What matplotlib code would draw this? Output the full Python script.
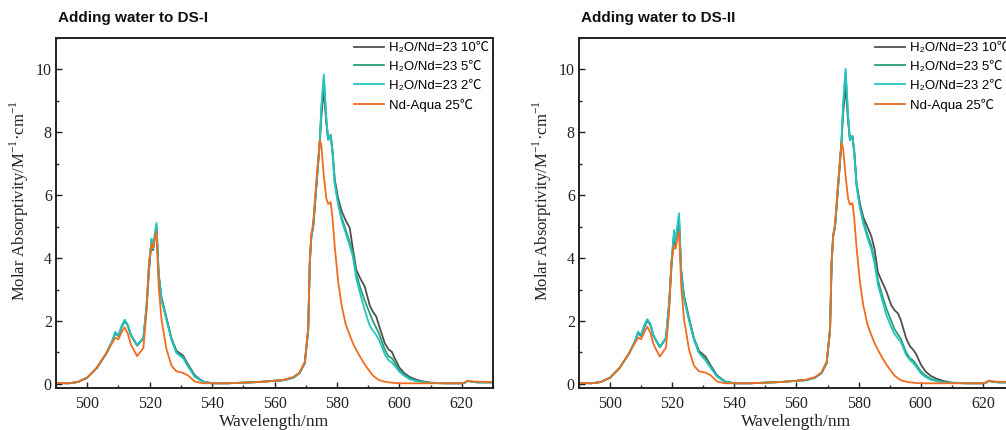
import matplotlib
matplotlib.use("Agg")
import matplotlib.pyplot as plt
from matplotlib.ticker import MultipleLocator

# ---------------- data ----------------
wavelength = [490, 494, 497, 500, 503, 506, 508, 509, 510, 511, 512, 513, 514, 516, 518, 519,
              519.8, 520.6, 521.1, 521.6, 522.2, 522.9, 523.8, 525.4, 527, 528.6, 530.7, 532.3,
              534.4, 537, 540, 545, 550, 555, 560, 563, 566, 568, 569.7, 570.8, 571.3, 571.8,
              572.4, 573.4, 574.5, 575.0, 575.8, 576.6, 577.2, 578, 578.6, 579.3, 580.4, 581.5,
              582.8, 584.1, 585.1, 586.2, 587.5, 588.9, 590.5, 591.5, 592.6, 593.5, 595.3, 596.5,
              597.6, 598.5, 600, 601.5, 603.3, 605, 607, 610, 615, 620, 621, 622, 623, 625, 630]

# DS-I
ds1_10C = [0.03, 0.02, 0.06, 0.2, 0.5, 0.95, 1.35, 1.62, 1.52, 1.8, 2.0, 1.85, 1.55, 1.22, 1.45, 2.4,
           3.6, 4.55, 4.25, 4.6, 4.95, 3.5, 2.75, 2.1, 1.45, 1.05, 0.9, 0.62,
           0.28, 0.08, 0.02, 0.02, 0.04, 0.06, 0.1, 0.12, 0.2, 0.34, 0.66, 1.72, 3.84, 4.7,
           5.0, 6.28, 7.65, 8.5, 9.36, 8.3, 7.77, 7.92, 7.4, 6.5, 5.9, 5.5,
           5.2, 4.96, 4.3, 3.63, 3.35, 3.1, 2.5, 2.3, 2.14, 1.85, 1.3, 1.1,
           1.02, 0.82, 0.52, 0.35, 0.22, 0.15, 0.09, 0.04, 0.02, 0.02, 0.04, 0.1, 0.07, 0.05, 0.05]
ds1_5C = [0.03, 0.02, 0.06, 0.2, 0.5, 0.95, 1.35, 1.63, 1.53, 1.82, 2.02, 1.86, 1.55, 1.22, 1.45, 2.45,
          3.7, 4.6, 4.3, 4.7, 5.05, 3.45, 2.7, 2.05, 1.42, 1.0, 0.85, 0.58,
          0.25, 0.07, 0.02, 0.02, 0.04, 0.06, 0.1, 0.12, 0.2, 0.34, 0.66, 1.72, 3.84, 4.7,
          5.0, 6.28, 7.7, 8.7, 9.7, 8.4, 7.77, 7.9, 7.35, 6.4, 5.75, 5.3,
          4.9, 4.5, 4.15, 3.5, 3.05, 2.65, 2.25, 2.0, 1.78, 1.6, 1.1, 0.88,
          0.82, 0.68, 0.45, 0.3, 0.18, 0.12, 0.07, 0.03, 0.02, 0.02, 0.04, 0.1, 0.07, 0.05, 0.05]
ds1_2C = [0.03, 0.02, 0.06, 0.2, 0.5, 0.95, 1.36, 1.65, 1.55, 1.84, 2.04, 1.88, 1.55, 1.24, 1.47, 2.5,
          3.75, 4.62, 4.3, 4.75, 5.12, 3.4, 2.67, 2.04, 1.4, 0.98, 0.82, 0.55,
          0.23, 0.07, 0.02, 0.02, 0.04, 0.06, 0.1, 0.12, 0.2, 0.34, 0.66, 1.72, 3.84, 4.7,
          5.0, 6.28, 7.7, 8.8, 9.84, 8.45, 7.77, 7.92, 7.35, 6.35, 5.7, 5.2,
          4.8, 4.4, 4.05, 3.35, 2.85, 2.35, 1.85, 1.7, 1.55, 1.4, 0.95, 0.76,
          0.68, 0.58, 0.39, 0.26, 0.15, 0.1, 0.06, 0.03, 0.02, 0.02, 0.04, 0.1, 0.07, 0.05, 0.05]
ds1_aqua = [0.03, 0.02, 0.06, 0.2, 0.5, 0.95, 1.3, 1.47, 1.42, 1.65, 1.8, 1.6, 1.25, 0.88, 1.15, 2.3,
            3.9, 4.45, 4.35, 4.6, 4.85, 3.1, 2.05, 1.1, 0.58, 0.4, 0.35, 0.27,
            0.08, 0.02, 0.02, 0.02, 0.04, 0.06, 0.1, 0.13, 0.22, 0.36, 0.7, 1.8, 3.9, 4.75,
            5.1, 6.45, 7.75, 7.6, 6.6, 5.9, 5.72, 5.78, 5.25, 4.37, 3.25, 2.5,
            1.9, 1.55, 1.3, 1.08, 0.85, 0.62, 0.4, 0.27, 0.18, 0.12, 0.07, 0.05,
            0.04, 0.03, 0.02, 0.02, 0.02, 0.02, 0.02, 0.02, 0.02, 0.02, 0.05, 0.1, 0.08, 0.07, 0.06]

# DS-II
ds2_10C = [0.03, 0.02, 0.06, 0.2, 0.5, 0.95, 1.35, 1.62, 1.52, 1.8, 2.02, 1.86, 1.52, 1.17, 1.45, 2.5,
           3.8, 4.7, 4.4, 4.8, 5.1, 3.6, 2.8, 2.1, 1.45, 1.05, 0.87, 0.6,
           0.27, 0.08, 0.02, 0.02, 0.04, 0.06, 0.1, 0.12, 0.2, 0.34, 0.66, 1.72, 3.84, 4.7,
           5.0, 6.28, 7.7, 8.6, 9.47, 8.35, 7.75, 7.88, 7.4, 6.4, 5.75, 5.3,
           5.0, 4.69, 4.3, 3.55, 3.25, 2.95, 2.5, 2.35, 2.25, 2.05, 1.45, 1.2,
           1.08, 0.95, 0.62, 0.4, 0.25, 0.17, 0.1, 0.04, 0.02, 0.02, 0.04, 0.1, 0.07, 0.05, 0.05]
ds2_5C = [0.03, 0.02, 0.06, 0.2, 0.5, 0.95, 1.35, 1.64, 1.54, 1.84, 2.04, 1.88, 1.53, 1.17, 1.45, 2.55,
          3.9, 4.8, 4.45, 4.9, 5.3, 3.55, 2.75, 2.05, 1.42, 1.0, 0.8, 0.56,
          0.25, 0.07, 0.02, 0.02, 0.04, 0.06, 0.1, 0.12, 0.2, 0.34, 0.66, 1.72, 3.84, 4.7,
          5.0, 6.28, 7.75, 8.8, 9.9, 8.5, 7.75, 7.88, 7.35, 6.35, 5.65, 5.2,
          4.75, 4.4, 3.95, 3.3, 2.85, 2.4, 2.0, 1.75, 1.58, 1.45, 1.0, 0.82,
          0.74, 0.62, 0.4, 0.27, 0.16, 0.11, 0.06, 0.03, 0.02, 0.02, 0.04, 0.1, 0.07, 0.05, 0.05]
ds2_2C = [0.03, 0.02, 0.06, 0.2, 0.5, 0.95, 1.36, 1.66, 1.56, 1.86, 2.06, 1.9, 1.54, 1.19, 1.47, 2.6,
          3.95, 4.9, 4.5, 5.0, 5.43, 3.5, 2.7, 2.02, 1.4, 0.98, 0.75, 0.52,
          0.23, 0.07, 0.02, 0.02, 0.04, 0.06, 0.1, 0.12, 0.2, 0.34, 0.66, 1.72, 3.84, 4.7,
          5.0, 6.28, 7.75, 8.9, 10.02, 8.55, 7.75, 7.88, 7.3, 6.3, 5.6, 5.1,
          4.65, 4.27, 3.85, 3.15, 2.7, 2.2, 1.8, 1.6, 1.45, 1.35, 0.92, 0.76,
          0.66, 0.55, 0.34, 0.22, 0.13, 0.09, 0.05, 0.03, 0.02, 0.02, 0.04, 0.1, 0.07, 0.05, 0.05]
ds2_aqua = [0.03, 0.02, 0.06, 0.2, 0.5, 0.95, 1.3, 1.47, 1.42, 1.65, 1.82, 1.62, 1.25, 0.87, 1.15, 2.3,
            3.9, 4.4, 4.3, 4.6, 4.85, 3.1, 2.05, 1.1, 0.58, 0.4, 0.36, 0.28,
            0.08, 0.02, 0.02, 0.02, 0.04, 0.06, 0.1, 0.13, 0.22, 0.36, 0.7, 1.8, 3.9, 4.75,
            5.1, 6.45, 7.66, 7.5, 6.6, 5.9, 5.7, 5.75, 5.25, 4.37, 3.25, 2.5,
            1.9, 1.55, 1.3, 1.08, 0.85, 0.62, 0.4, 0.27, 0.18, 0.12, 0.07, 0.05,
            0.04, 0.03, 0.02, 0.02, 0.02, 0.02, 0.02, 0.02, 0.02, 0.02, 0.05, 0.1, 0.08, 0.07, 0.06]

series_labels = ["H₂O/Nd=23 10℃", "H₂O/Nd=23 5℃", "H₂O/Nd=23 2℃", "Nd-Aqua 25℃"]
series_colors = ["#505050", "#2aa070", "#22c4c4", "#f06c1e"]
panel_titles = ["Adding water to DS-I", "Adding water to DS-II"]
xlabel = "Wavelength/nm"
ylabel = r"Molar Absorptivity/M$^{\mathregular{-1}}$·cm$^{\mathregular{-1}}$"
panels = [[ds1_10C, ds1_5C, ds1_2C, ds1_aqua], [ds2_10C, ds2_5C, ds2_2C, ds2_aqua]]

# ---------------- figure ----------------
W, H = 1006, 430
fig = plt.figure(figsize=(W / 100, H / 100), dpi=100)

serif = ["Liberation Serif", "DejaVu Serif"]
sans = ["Liberation Sans", "Noto Sans CJK SC", "DejaVu Sans"]

axes_px = [(56, 493), (579, 1014)]  # left/right pixel edges
top_px, bot_px = 38, 388

for i, (lx, rx) in enumerate(axes_px):
    ax = fig.add_axes([lx / W, 1 - bot_px / H, (rx - lx) / W, (bot_px - top_px) / H])
    for ys, lab, col in zip(panels[i], series_labels, series_colors):
        ax.plot(wavelength, ys, color=col, lw=1.3, label=lab)
    ax.set_xlim(490, 630)
    ax.set_ylim(-0.13, 11.0)
    ax.xaxis.set_major_locator(MultipleLocator(20))
    ax.xaxis.set_minor_locator(MultipleLocator(10))
    ax.yaxis.set_major_locator(MultipleLocator(2))
    ax.yaxis.set_minor_locator(MultipleLocator(1))
    ax.tick_params(which="both", direction="in", top=False, right=False, width=1.0,
                   colors="#222222")
    ax.tick_params(which="major", length=4.5)
    ax.tick_params(which="minor", length=2.5)
    ax.tick_params(axis="x", which="major", pad=6)
    ax.tick_params(axis="y", which="major", pad=3)
    for lbl in ax.get_xticklabels() + ax.get_yticklabels():
        lbl.set_family(serif)
        lbl.set_fontsize(11.5)
        lbl.set_color("#222222")
    for sp in ax.spines.values():
        sp.set_linewidth(1.4)
        sp.set_color("#222222")
    ax.set_xlabel(xlabel, family=serif, fontsize=12.5, color="#222222", labelpad=1)
    ax.set_ylabel(ylabel, family=serif, fontsize=12, color="#222222")
    ax.yaxis.set_label_coords(-0.058, 0.535)
    leg = ax.legend(loc="upper right", frameon=False, prop={"family": sans, "size": 9.5},
                    handlelength=2.3, handletextpad=0.35, labelspacing=0.5,
                    borderpad=0.15, borderaxespad=0.15)
    fig.text((lx + 2) / W, 1 - 18 / H, panel_titles[i], family=sans, fontsize=11,
             fontweight="bold", va="center", ha="left", color="#111111")

fig.savefig("out.png", dpi=100)
